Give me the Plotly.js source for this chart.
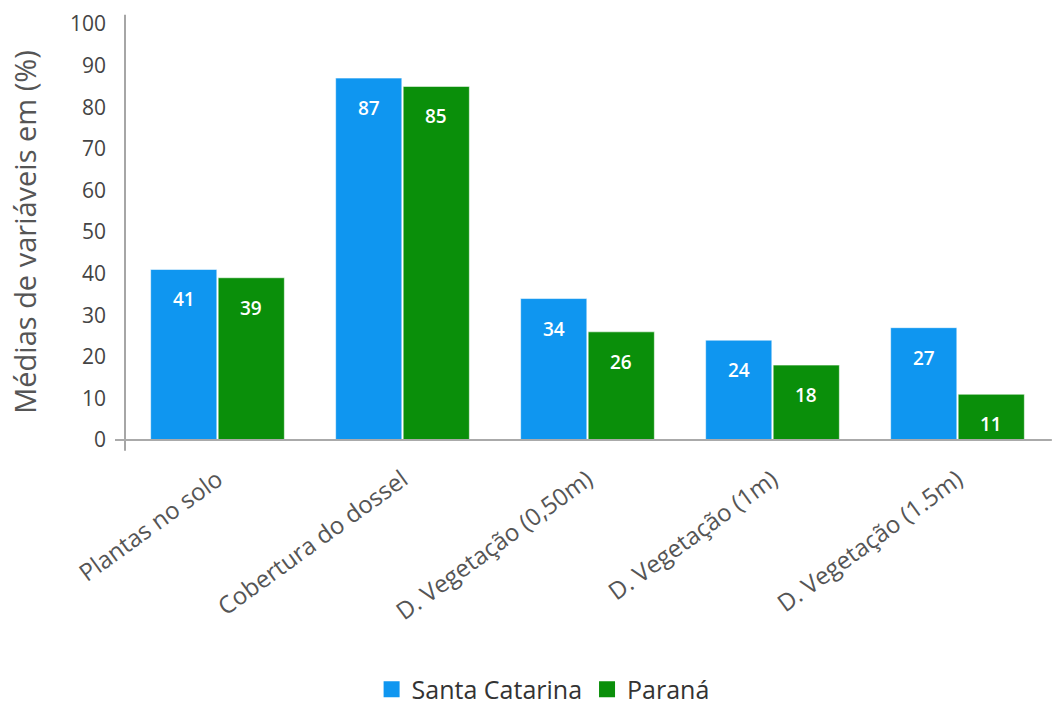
<!DOCTYPE html>
<html>
<head>
<meta charset="utf-8">
<script src="https://cdn.plot.ly/plotly-3.0.1.min.js"></script>
<style>html,body{margin:0;padding:0;background:#fff;}#chart{width:1052px;height:708px;}</style>
</head>
<body>
<div id="chart"></div>
<script>
const categories = ["Plantas no solo", "Cobertura do dossel", "D. Vegetação (0,50m)", "D. Vegetação (1m)", "D. Vegetação (1.5m)"];
const seriesNames = ["Santa Catarina", "Paraná"];
const santaCatarina = [41, 87, 34, 24, 27];
const parana = [39, 85, 26, 18, 11];
const yTicks = [0, 10, 20, 30, 40, 50, 60, 70, 80, 90, 100];

const colors = ["#0F96F0", "#0A8F0A"];
const FONT = "Open Sans, Segoe UI, sans-serif";
const seriesValues = [santaCatarina, parana];

function barTrace(name, vals, color) {
  return {
    type: "bar",
    name: name,
    x: categories,
    y: vals,
    showlegend: false,
    marker: {color: color, line: {color: "rgba(255,255,255,0.55)", width: 1}},
    hoverinfo: "skip"
  };
}

function legendTrace(name, color) {
  return {
    type: "scatter",
    mode: "markers",
    name: name,
    x: [null],
    y: [null],
    marker: {symbol: "square", size: 30, color: color},
    showlegend: true
  };
}

const data = [
  barTrace(seriesNames[0], santaCatarina, colors[0]),
  barTrace(seriesNames[1], parana, colors[1]),
  legendTrace(seriesNames[0], colors[0]),
  legendTrace(seriesNames[1], colors[1])
];

// value labels placed inside the top of each bar
const annotations = [];
const barShift = [-33.5, 33.5];
seriesValues.forEach((vals, s) => {
  vals.forEach((v, i) => {
    annotations.push({
      x: categories[i], y: v, xref: "x", yref: "y",
      text: String(v), showarrow: false,
      xanchor: "center", yanchor: "top",
      xshift: barShift[s], yshift: -15,
      font: {family: FONT, size: 19, color: "#ffffff", weight: 600}
    });
  });
});

const layout = {
  width: 1052,
  height: 708,
  margin: {l: 125, r: 2, t: 24, b: 268, autoexpand: false},
  paper_bgcolor: "#ffffff",
  plot_bgcolor: "#ffffff",
  font: {family: FONT, color: "#444"},
  barmode: "group",
  bargap: 0.27,
  bargroupgap: 0.02,
  showlegend: true,
  legend: {
    orientation: "h",
    xref: "paper", x: 0.452, xanchor: "center",
    yref: "container", y: 0.026, yanchor: "middle",
    font: {family: FONT, size: 25, color: "#333"},
    itemwidth: 30,
    tracegroupgap: 0
  },
  xaxis: {
    type: "category",
    showline: false,
    showgrid: false,
    zeroline: false,
    ticks: "",
    tickangle: -36,
    tickfont: {family: FONT, size: 24, color: "#555"},
    ticklabelstandoff: 20
  },
  yaxis: {
    range: [0, 100],
    tickvals: yTicks,
    ticktext: yTicks.map(String),
    showline: false,
    showgrid: false,
    zeroline: false,
    ticks: "",
    ticklabelstandoff: 18,
    tickfont: {family: FONT, size: 21, color: "#444"},
    title: {text: "Médias de variáveis em (%)", font: {family: FONT, size: 29, color: "#555"}, standoff: 24}
  },
  annotations: annotations,
  shapes: [
    {type: "line", xref: "paper", yref: "paper", x0: 0, x1: 0, y0: -0.026, y1: 1.022, line: {color: "#888", width: 1.5}},
    {type: "line", xref: "paper", yref: "paper", x0: -0.0108, x1: 1.002, y0: 0, y1: 0, line: {color: "#aaa", width: 2}}
  ]
};

Plotly.newPlot("chart", data, layout, {displayModeBar: false, staticPlot: true});
</script>
</body>
</html>
